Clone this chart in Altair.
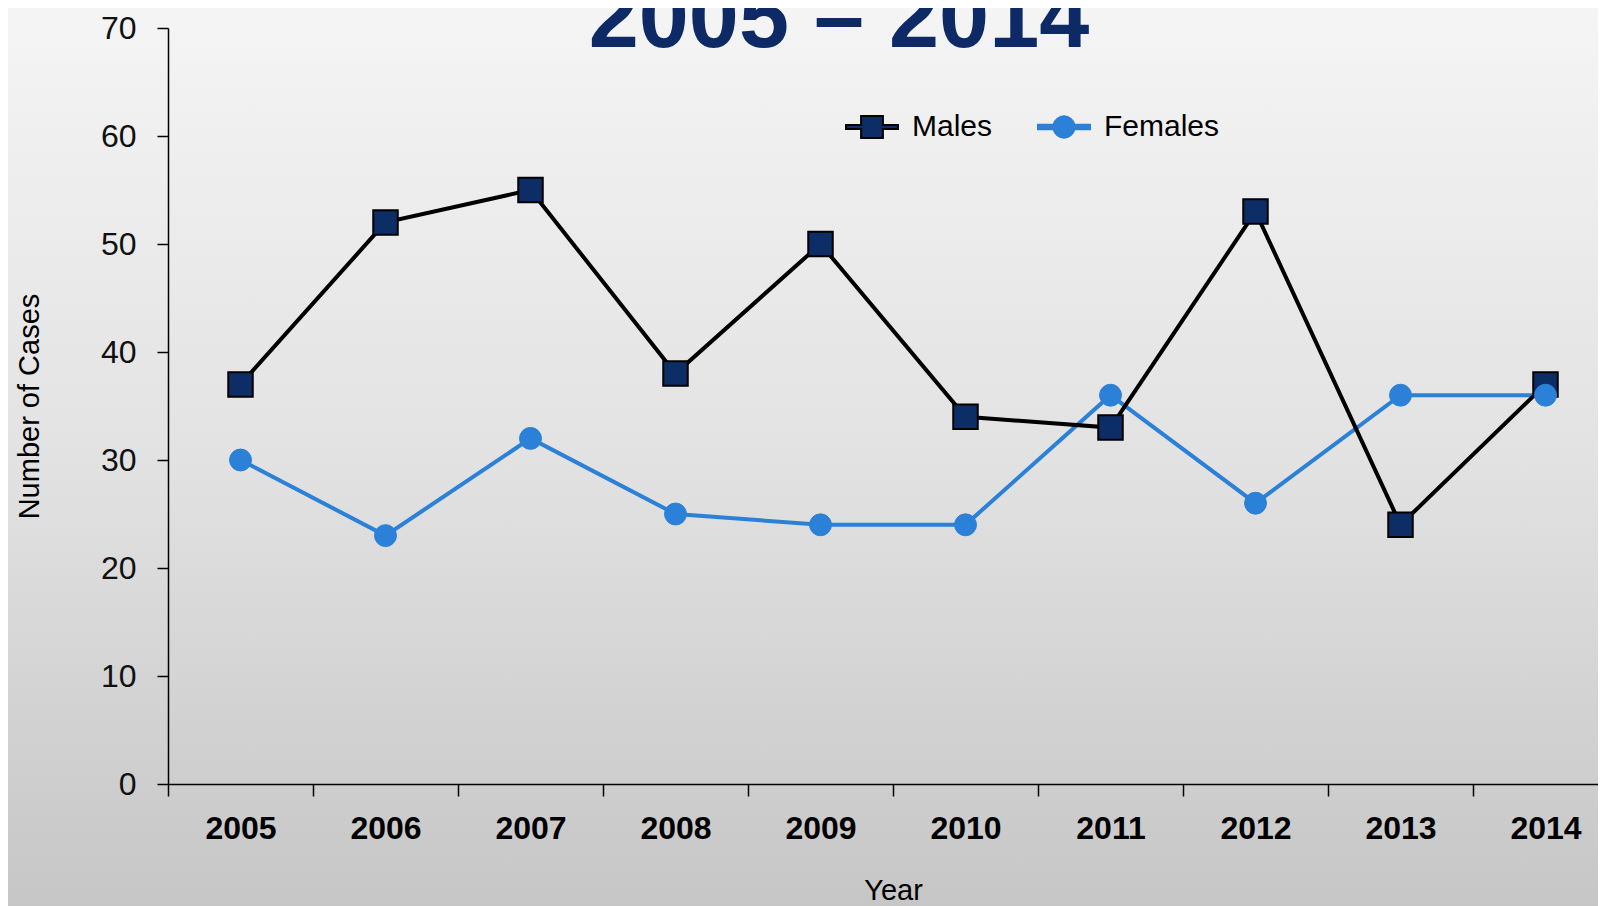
import altair as alt
import pandas as pd

# ---- data ----
years = [2005, 2006, 2007, 2008, 2009, 2010, 2011, 2012, 2013, 2014]
males = [37, 52, 55, 38, 50, 34, 33, 53, 24, 37]
females = [30, 23, 32, 25, 24, 24, 36, 26, 36, 36]
series_names = ["Males", "Females"]
y_ticks = [0, 10, 20, 30, 40, 50, 60, 70]
title_text = "2005 – 2014"
x_title = "Year"
y_title = "Number of Cases"

df = pd.DataFrame({
    "year": years * 2,
    "cases": males + females,
    "series": [series_names[0]] * len(years) + [series_names[1]] * len(years),
})
title_df = pd.DataFrame({"t": [title_text]})
bg_df = pd.DataFrame({"bg": [0]})

# ---- layout / style ----
W, H = 1430, 756
BAND = 145
FONT = "Liberation Sans, Arial, sans-serif"
NAVY = "#0c2d66"
TITLE_NAVY = "#0d2a66"
BLUE = "#2b80d8"

PATH_M = "M-1,-0.075H-0.42V-0.42H0.42V-0.075H1V0.075H0.42V0.42H-0.42V0.075H-1Z"
PATH_F = ("M-1,-0.09H-0.4A0.41,0.41 0 0 1 0.4,-0.09H1V0.09H0.4"
          "A0.41,0.41 0 0 1 -0.4,0.09H-1Z")

x_enc = alt.X(
    "year:Q",
    title=x_title,
    scale=alt.Scale(domain=[years[0] - 0.5, years[0] - 0.5 + W / BAND], nice=False, zero=False),
    axis=alt.Axis(
        zindex=2,
        values=[y - 0.5 for y in years],
        labelExpr="format(datum.value + 0.5, 'd')",
        labelOffset=BAND / 2,
        labelFlush=False,
        labelOverlap=False,
        grid=False,
        tickSize=12,
        labelPadding=17,
        labelFont=FONT,
        labelFontSize=32,
        labelFontWeight="bold",
        labelColor="black",
        titleFont=FONT,
        titleFontSize=29,
        titleFontWeight="normal",
        titleColor="black",
        titleX=725,
        titleY=115,
        titleAlign="center",
        titleBaseline="alphabetic",
    ),
)
y_enc = alt.Y(
    "cases:Q",
    title=y_title,
    scale=alt.Scale(domain=[0, 70], nice=False, zero=True),
    axis=alt.Axis(
        zindex=2,
        values=y_ticks,
        labelFlush=False,
        grid=False,
        tickSize=11,
        labelPadding=21,
        labelFont=FONT,
        labelFontSize=32,
        labelColor="#111111",
        titleFont=FONT,
        titleFontSize=29,
        titleFontWeight="normal",
        titleColor="black",
        titleX=-139,
        titleY=H / 2,
        titleAngle=270,
        titleAlign="center",
        titleBaseline="middle",
    ),
)

bg = alt.Chart(bg_df).mark_rect(
    fill=alt.LinearGradient(
        gradient="linear",
        stops=[
            alt.GradientStop(color="#f5f5f5", offset=0),
            alt.GradientStop(color="#e2e2e2", offset=0.5),
            alt.GradientStop(color="#c5c5c5", offset=1),
        ],
        x1=0, x2=0, y1=0, y2=1,
    )
).encode(
    x=alt.value(-170), x2=alt.value(W + 20), y=alt.value(-30), y2=alt.value(H + 140)
)

base = alt.Chart(df).encode(x=x_enc, y=y_enc)

f_line = base.transform_filter(alt.datum.series == series_names[1]).mark_line(
    color=BLUE, strokeWidth=4
)
m_line = base.transform_filter(alt.datum.series == series_names[0]).mark_line(
    color="black", strokeWidth=4
)
m_pts = base.transform_filter(alt.datum.series == series_names[0]).mark_point(
    shape="square", filled=True, size=600, fill=NAVY, stroke="black", strokeWidth=2, opacity=1
)
f_pts = base.transform_filter(alt.datum.series == series_names[1]).mark_point(
    shape="circle", filled=True, size=480, fill=BLUE, stroke=BLUE, strokeWidth=1, opacity=1
)

leg = alt.Legend(
    title=None,
    orient="none",
    legendX=677,
    legendY=72,
    direction="horizontal",
    symbolSize=2704,
    symbolStrokeWidth=2,
    labelFont=FONT,
    labelFontSize=30,
    labelColor="black",
    labelOffset=13,
    columnPadding=41,
    padding=0,
    labelLimit=400,
)
legend_layer = alt.Chart(df).transform_filter("false").mark_point(
    filled=True, opacity=1, strokeWidth=2, size=2704
).encode(
    shape=alt.Shape("series:N", scale=alt.Scale(domain=series_names, range=[PATH_M, PATH_F]), legend=leg),
    fill=alt.Fill("series:N", scale=alt.Scale(domain=series_names, range=[NAVY, BLUE]), legend=leg),
    stroke=alt.Stroke("series:N", scale=alt.Scale(domain=series_names, range=["#000000", BLUE]), legend=leg),
)

title_layer = alt.Chart(title_df).mark_text(
    font=FONT,
    fontWeight="bold",
    fontSize=90,
    color=TITLE_NAVY,
    align="center",
    baseline="alphabetic",
).encode(text="t:N", x=alt.value(671), y=alt.value(19))

chart = alt.layer(
    bg, f_line, m_line, m_pts, f_pts, legend_layer, title_layer
).properties(
    width=W,
    height=H,
    autosize=alt.AutoSizeParams(type="none"),
    padding={"left": 160, "top": 20, "right": 0, "bottom": 124},
    background="#f5f5f5",
).configure_view(
    stroke=None
).configure_axis(
    domainColor="black",
    domainWidth=1.5,
    tickColor="black",
    tickWidth=1.5,
)

chart.save("out.html", embed_options={"renderer": "svg", "actions": False})
